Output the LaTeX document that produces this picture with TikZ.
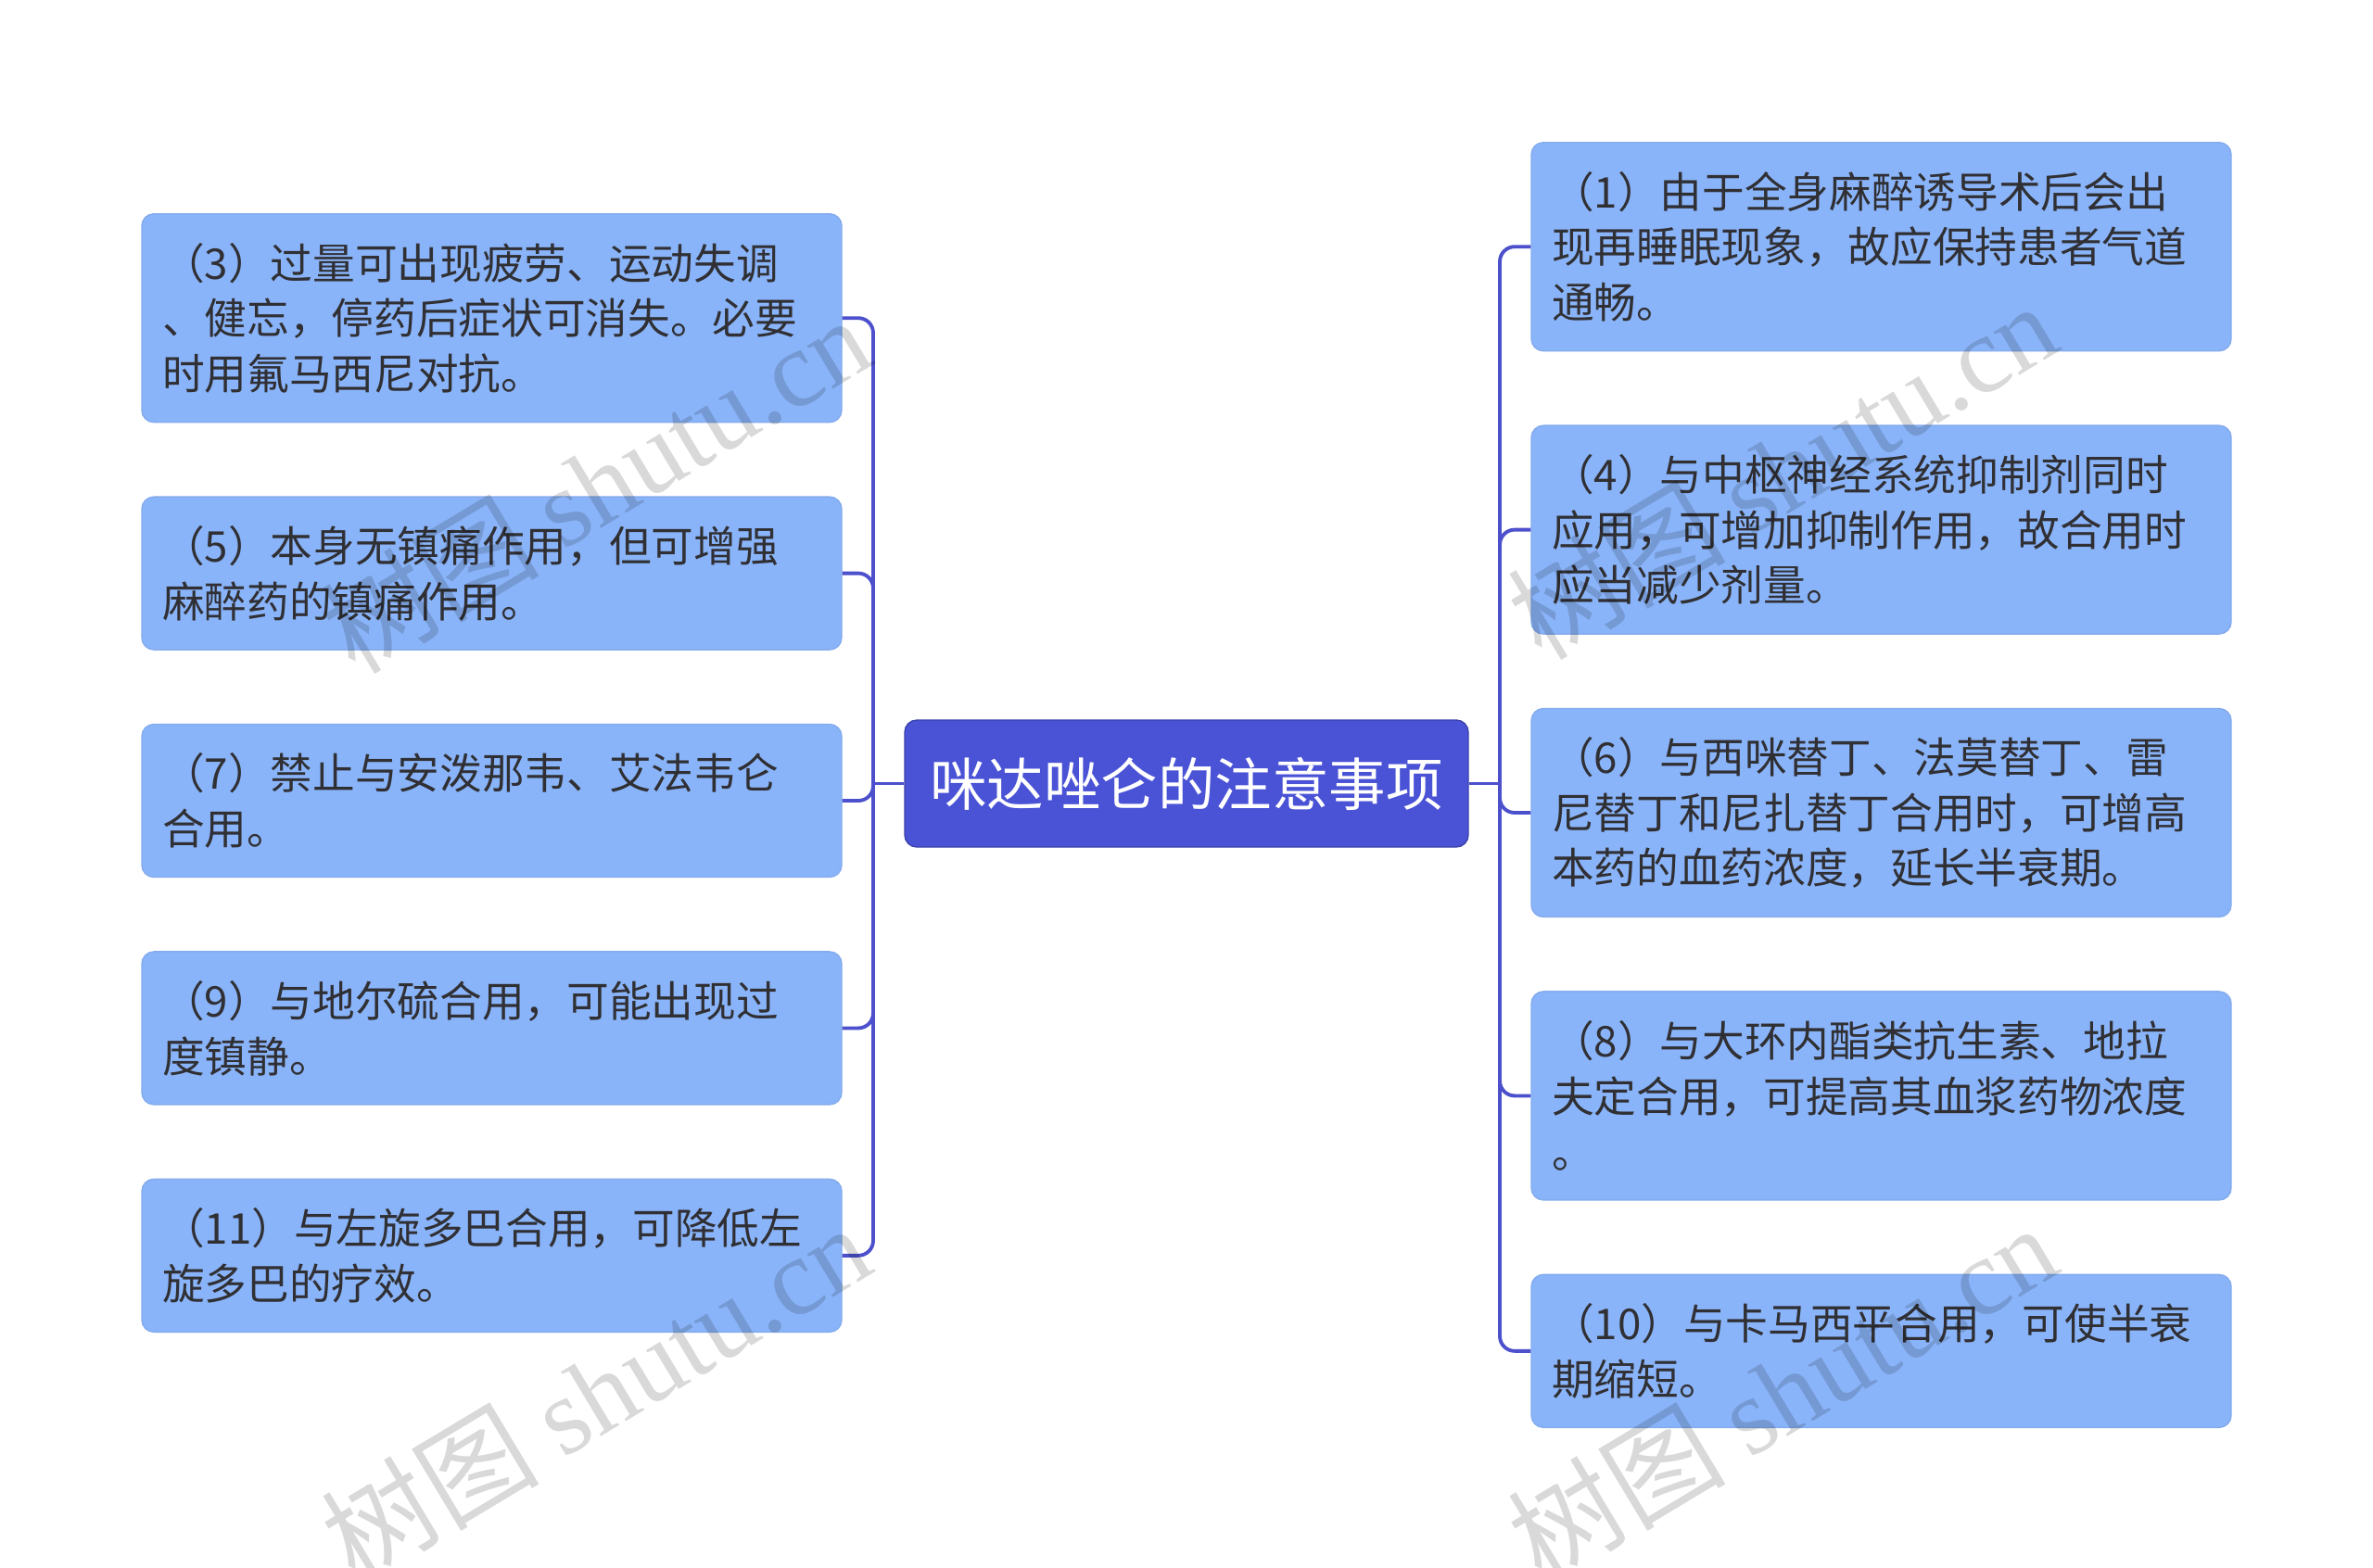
\documentclass[tikz,border=0pt]{standalone}
\usepackage{fontspec}
\setmainfont{Noto Sans CJK SC}
\newfontfamily\cjk{Noto Sans CJK SC}
\newfontfamily\markserif{Liberation Serif}
\usepackage{tikz}
\usetikzlibrary{positioning}
\definecolor{rootblue}{RGB}{74,82,214}
\definecolor{linkblue}{RGB}{76,80,204}
\definecolor{leafblue}{RGB}{138,180,249}
\definecolor{leaftext}{RGB}{48,48,52}
\tikzset{rootnode/.style={rectangle, rounded corners=0.13cm, fill=rootblue, draw=rootblue!80!black, line width=0.4pt, text=white, minimum width=6.08cm, minimum height=1.37cm, font=\cjk\fontsize{17.5pt}{21pt}\selectfont}}
\tikzset{leafnode/.style={rectangle, rounded corners=0.13cm, fill=leafblue, draw=leafblue!95!black, line width=0.4pt, text=leaftext, text width=7.11cm, inner xsep=0.22cm, inner ysep=0pt, align=left, font=\cjk\fontsize{13pt}{17pt}\selectfont}}
\tikzset{twoline/.style={minimum height=1.65cm}}
\tikzset{threeline/.style={minimum height=2.25cm}}
\tikzset{link/.style={draw=linkblue, line width=1.1pt, rounded corners=0.16cm}}
\tikzset{wmark/.style={text=black, opacity=0.15, rotate=31, font=\fontsize{33.5pt}{35pt}\selectfont}}

\begin{document}
\begin{tikzpicture}

    \useasboundingbox (0,0) rectangle (25.6,-16.91);

    \node[rootnode]                (root)   at (12.80,-8.455)        {咪达唑仑的注意事项};

    % left side
    \node[leafnode, threeline, anchor=north] (item3) at (5.305,-2.30) {（3）过量可出现疲劳、运动失调\\、健忘，停药后症状可消失。必要\\时用氟马西尼对抗。};
    \node[leafnode, twoline]       (item5)  [below=0.79cm of item3]  {（5）本身无镇痛作用，但可增强\\麻醉药的镇痛作用。};
    \node[leafnode, twoline]       (item7)  [below=0.79cm of item5]  {（7）禁止与安泼那韦、艾法韦仑\\合用。};
    \node[leafnode, twoline]       (item9)  [below=0.79cm of item7]  {（9）与地尔硫合用，可能出现过\\度镇静。};
    \node[leafnode, twoline]       (item11) [below=0.79cm of item9]  {（11）与左旋多巴合用，可降低左\\旋多巴的疗效。};

    % right side
    \node[leafnode, threeline, anchor=north] (item1) at (20.295,-1.53) {（1）由于全身麻醉诱导术后会出\\现再睡眠现象，故应保持患者气道\\通畅。};
    \node[leafnode, threeline]     (item4)  [below=0.79cm of item1]  {（4）与中枢神经系统抑制剂同时\\应用，可增加抑制作用，故合用时\\应当减少剂量。};
    \node[leafnode, threeline]     (item6)  [below=0.79cm of item4]  {（6）与西咪替丁、法莫替丁、雷\\尼替丁和尼扎替丁合用时，可增高\\本药的血药浓度，延长半衰期。};
    \node[leafnode, threeline]     (item8)  [below=0.79cm of item6]  {（8）与大环内酯类抗生素、地拉\\夫定合用，可提高其血浆药物浓度\\。};
    \node[leafnode, twoline]       (item10) [below=0.79cm of item8]  {（10）与卡马西平合用，可使半衰\\期缩短。};

    \coordinate (ljoin) at (9.42,-8.455);
    \coordinate (rjoin) at (16.18,-8.455);

    \draw[link] (root.west) -- (ljoin);
    \draw[link] (root.east) -- (rjoin);
    \foreach \n in {item3,item5,item7,item9,item11}
        \draw[link] (ljoin) |- (\n.east);
    \foreach \n in {item1,item4,item6,item8,item10}
        \draw[link] (rjoin) |- (\n.west);

    % watermarks
    \node[wmark] (wm1) at (6.42,-5.22)  {\cjk 树图 \markserif shutu.cn};
    \node[wmark] (wm2) at (6.42,-15.02) {\cjk 树图 \markserif shutu.cn};
    \node[wmark] (wm3) at (19.22,-5.07) {\cjk 树图 \markserif shutu.cn};
    \node[wmark] (wm4) at (19.22,-15.02) {\cjk 树图 \markserif shutu.cn};
\end{tikzpicture}
\end{document}
